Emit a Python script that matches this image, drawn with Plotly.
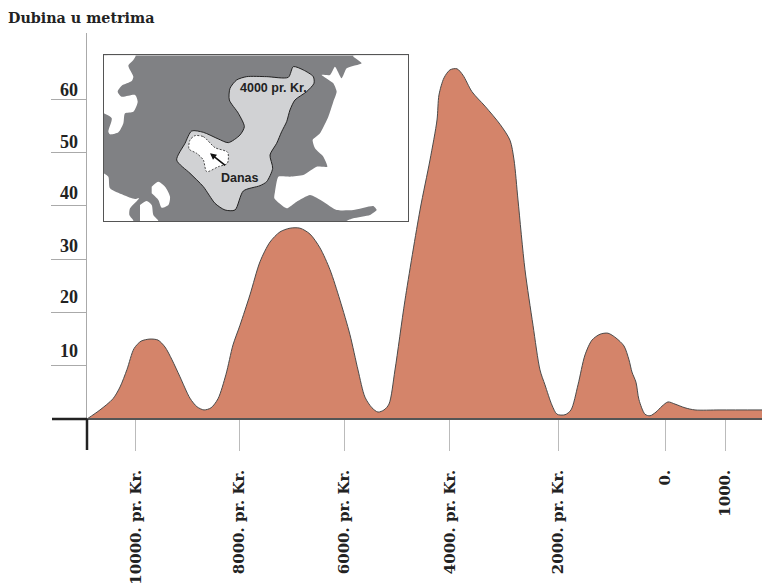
import plotly.graph_objects as go

years = [-10915,-10670,-10425,-10292,-10160,-10028,-9896,-9726,-9575,-9443,-9311,-9160,-8972,-8840,-8708,-8575,-8443,-8292,-8160,-8028,-7840,-7651,-7462,-7274,-7085,-6896,-6708,-6519,-6330,-6142,-5953,-5802,-5670,-5538,-5425,-5311,-5217,-5104,-4915,-4632,-4443,-4311,-4274,-4179,-4066,-3934,-3821,-3651,-3406,-3123,-2934,-2858,-2783,-2651,-2500,-2368,-2274,-2142,-2047,-1896,-1783,-1651,-1519,-1387,-1236,-1085,-934,-783,-689,-632,-557,-500,-387,-292,-179,-66,47,179,368,557,1028,1821]
depths = [0,1.7,3.8,6,9.3,13.2,14.6,15,14.8,13.5,11.1,7.9,3.9,2.3,1.7,2.1,3.8,8.4,13.9,17.6,23.3,29.5,33.2,35.1,35.8,35.8,34.7,32.1,28,22.3,15.8,9.2,4.1,2.1,1.3,1.7,2.8,9.2,22.3,39.2,48.6,56.1,60.8,64,65.5,65.7,64.5,61.4,58.7,55.3,52.3,48.6,41.1,28,17.6,9.2,6.4,2.6,0.9,0.8,1.7,6.4,12,14.8,15.9,16.1,15.2,13.7,11.1,8.8,6.9,3.6,0.9,0.6,1.3,2.4,3.2,2.8,2.1,1.7,1.7,1.7]
x_ticks = [-9996,-8038,-6057,-4066,-2028,0,1132]
x_labels = ["10000. pr. Kr.","8000. pr. Kr.","6000. pr. Kr.","4000. pr. Kr.","2000. pr. Kr.","0.","1000."]
y_ticks = [10,20,30,40,50,60]
y_label_shift = [3,3,1,1,-1,-2.4]
title = "Dubina u metrima"

map_box = ([41,955,955,41,41],[31,31,528,528,31])
white_left = ([41,137,130,115,130,125,95,83,95,135,143,130,105,100,85,60,55,65,41],[31,31,45,62,95,108,122,140,155,150,170,200,205,235,262,268,260,220,205])
white_bl = ([41,55,60,100,135,147,120,118,130,41],[385,395,430,450,462,460,490,510,528,528])
white_isle1 = ([150,170,185,190,205,150],[480,468,480,510,528,528])
white_isle2 = ([185,205,225,240,235,215,205,185],[425,410,425,455,480,488,465,445])
white_right = ([790,815,770,755,735,720,695,730,740,730,715,690,668,675,700,712,680,640,600,565,555,553,590,620,660,700,740,790,850,860,840,790,770,955,955,790],[35,55,70,100,65,90,90,115,140,170,215,265,285,310,335,365,365,390,395,395,440,460,490,470,450,470,495,495,483,495,510,520,528,528,31,31])
sea_4000 = ([610,640,670,672,650,615,600,590,575,560,540,548,530,510,460,435,405,375,340,300,260,285,305,340,385,415,450,463,445,418,420,440,470,530,595,610],[65,75,95,115,140,165,195,230,260,295,330,370,410,422,438,495,495,475,425,385,345,295,258,262,282,293,270,245,205,165,130,105,95,95,97,65])
lake = ([315,340,375,413,412,385,350,340,320,297,300,315],[272,275,308,322,355,365,380,345,325,312,285,272])

SERIF = "Liberation Serif"
WIDE = "DejaVu Serif"
fig = go.Figure()
fig.add_trace(go.Scatter(x=years, y=depths, mode="lines", fill="tozeroy", fillcolor="#D4846A",
                         line=dict(color="#4a4a4a", width=1, shape="spline", smoothing=0.8), hoverinfo="skip"))

def poly(xy, fill, line=None, width=0, dash=None, smoothing=0.7):
    fig.add_trace(go.Scatter(x=xy[0], y=xy[1], xaxis="x2", yaxis="y2", mode="lines", fill="toself", fillcolor=fill,
                             line=dict(color=line or fill, width=width, shape="spline", smoothing=smoothing, dash=dash), hoverinfo="skip"))

fig.add_trace(go.Scatter(x=map_box[0], y=map_box[1], xaxis="x2", yaxis="y2", mode="lines", fill="toself",
                         fillcolor="#808184", line=dict(width=0), hoverinfo="skip"))
poly(white_left, "white")
poly(white_bl, "white")
poly(white_isle1, "white")
poly(white_isle2, "white")
poly(white_right, "white", smoothing=0.5)
poly(sea_4000, "#D1D2D4", line="#222222", width=1)
poly(lake, "white", line="#222222", width=0.8, dash="2px,1.5px")

annotations = [
    dict(x=-7/675, y=y, xref="paper", yref="y", text=f"<b>{y}</b>", showarrow=False, xanchor="right", yanchor="bottom",
         yshift=s, font=dict(family=SERIF, size=18, color="#222222"))
    for y, s in zip(y_ticks, y_label_shift)
]
annotations += [
    dict(x=360, y=325, ax=410, ay=365, xref="x2", yref="y2", axref="x2", ayref="y2", text="", showarrow=True,
         arrowhead=2, arrowsize=0.8, arrowwidth=1.6, arrowcolor="#111111"),
    dict(x=550, y=128, xref="x2", yref="y2", text="<b>4000 pr. Kr.</b>", showarrow=False,
         font=dict(family="Liberation Sans", size=12.5, color="#222222")),
    dict(x=450, y=400, xref="x2", yref="y2", text="<b>Danas</b>", showarrow=False,
         font=dict(family="Liberation Sans", size=12.5, color="#222222")),
]
shapes = [
    dict(type="line", xref="paper", yref="paper", x0=-35/675, x1=0, y0=31/417, y1=31/417,
         line=dict(color="#222222", width=2.5)),
    dict(type="line", xref="paper", yref="paper", x0=0, x1=0, y0=0, y1=31/417,
         line=dict(color="#222222", width=2.5)),
]
fig.update_layout(
    width=762, height=586, autosize=False, showlegend=False,
    paper_bgcolor="white", plot_bgcolor="white",
    margin=dict(l=87, r=0, t=33, b=136),
    title=dict(text=title, x=8/762, xanchor="left", xref="container", y=1-18/586, yref="container", yanchor="middle",
               font=dict(family=WIDE, size=14.3, weight="bold", color="#222222")),
    xaxis=dict(range=[-10915,1821], domain=[0,1], anchor="free", position=31/417, tickmode="array",
               tickvals=x_ticks, ticktext=x_labels, tickangle=-90, ticks="outside", ticklen=31, tickwidth=1.2,
               tickcolor="#bbbbbb", showgrid=False, zeroline=False, showline=True, linecolor="#555555", linewidth=1.5,
               tickfont=dict(family=WIDE, size=15, weight="bold", color="#222222"), ticklabelstandoff=13),
    yaxis=dict(range=[-31/5.33,386/5.33], domain=[0,1], tickmode="array", tickvals=y_ticks, showticklabels=False,
               ticks="outside", ticklen=35, tickwidth=1, tickcolor="#aaaaaa", showgrid=False, zeroline=False,
               showline=True, linecolor="#aaaaaa", linewidth=1),
    xaxis2=dict(domain=[16.7/675,321.3/675], range=[41,955], anchor="y2", visible=True, showticklabels=False, ticks="",
                showgrid=False, zeroline=False, showline=True, mirror=True, linecolor="#555555", linewidth=1),
    yaxis2=dict(domain=[229/417,394.7/417], range=[528,31], anchor="x2", showticklabels=False, ticks="",
                showgrid=False, zeroline=False, showline=True, mirror=True, linecolor="#555555", linewidth=1),
    annotations=annotations, shapes=shapes,
)
fig.write_html("out.html", config=dict(displayModeBar=False),
               post_script="document.body.style.margin='0';document.documentElement.style.overflow='hidden';")
